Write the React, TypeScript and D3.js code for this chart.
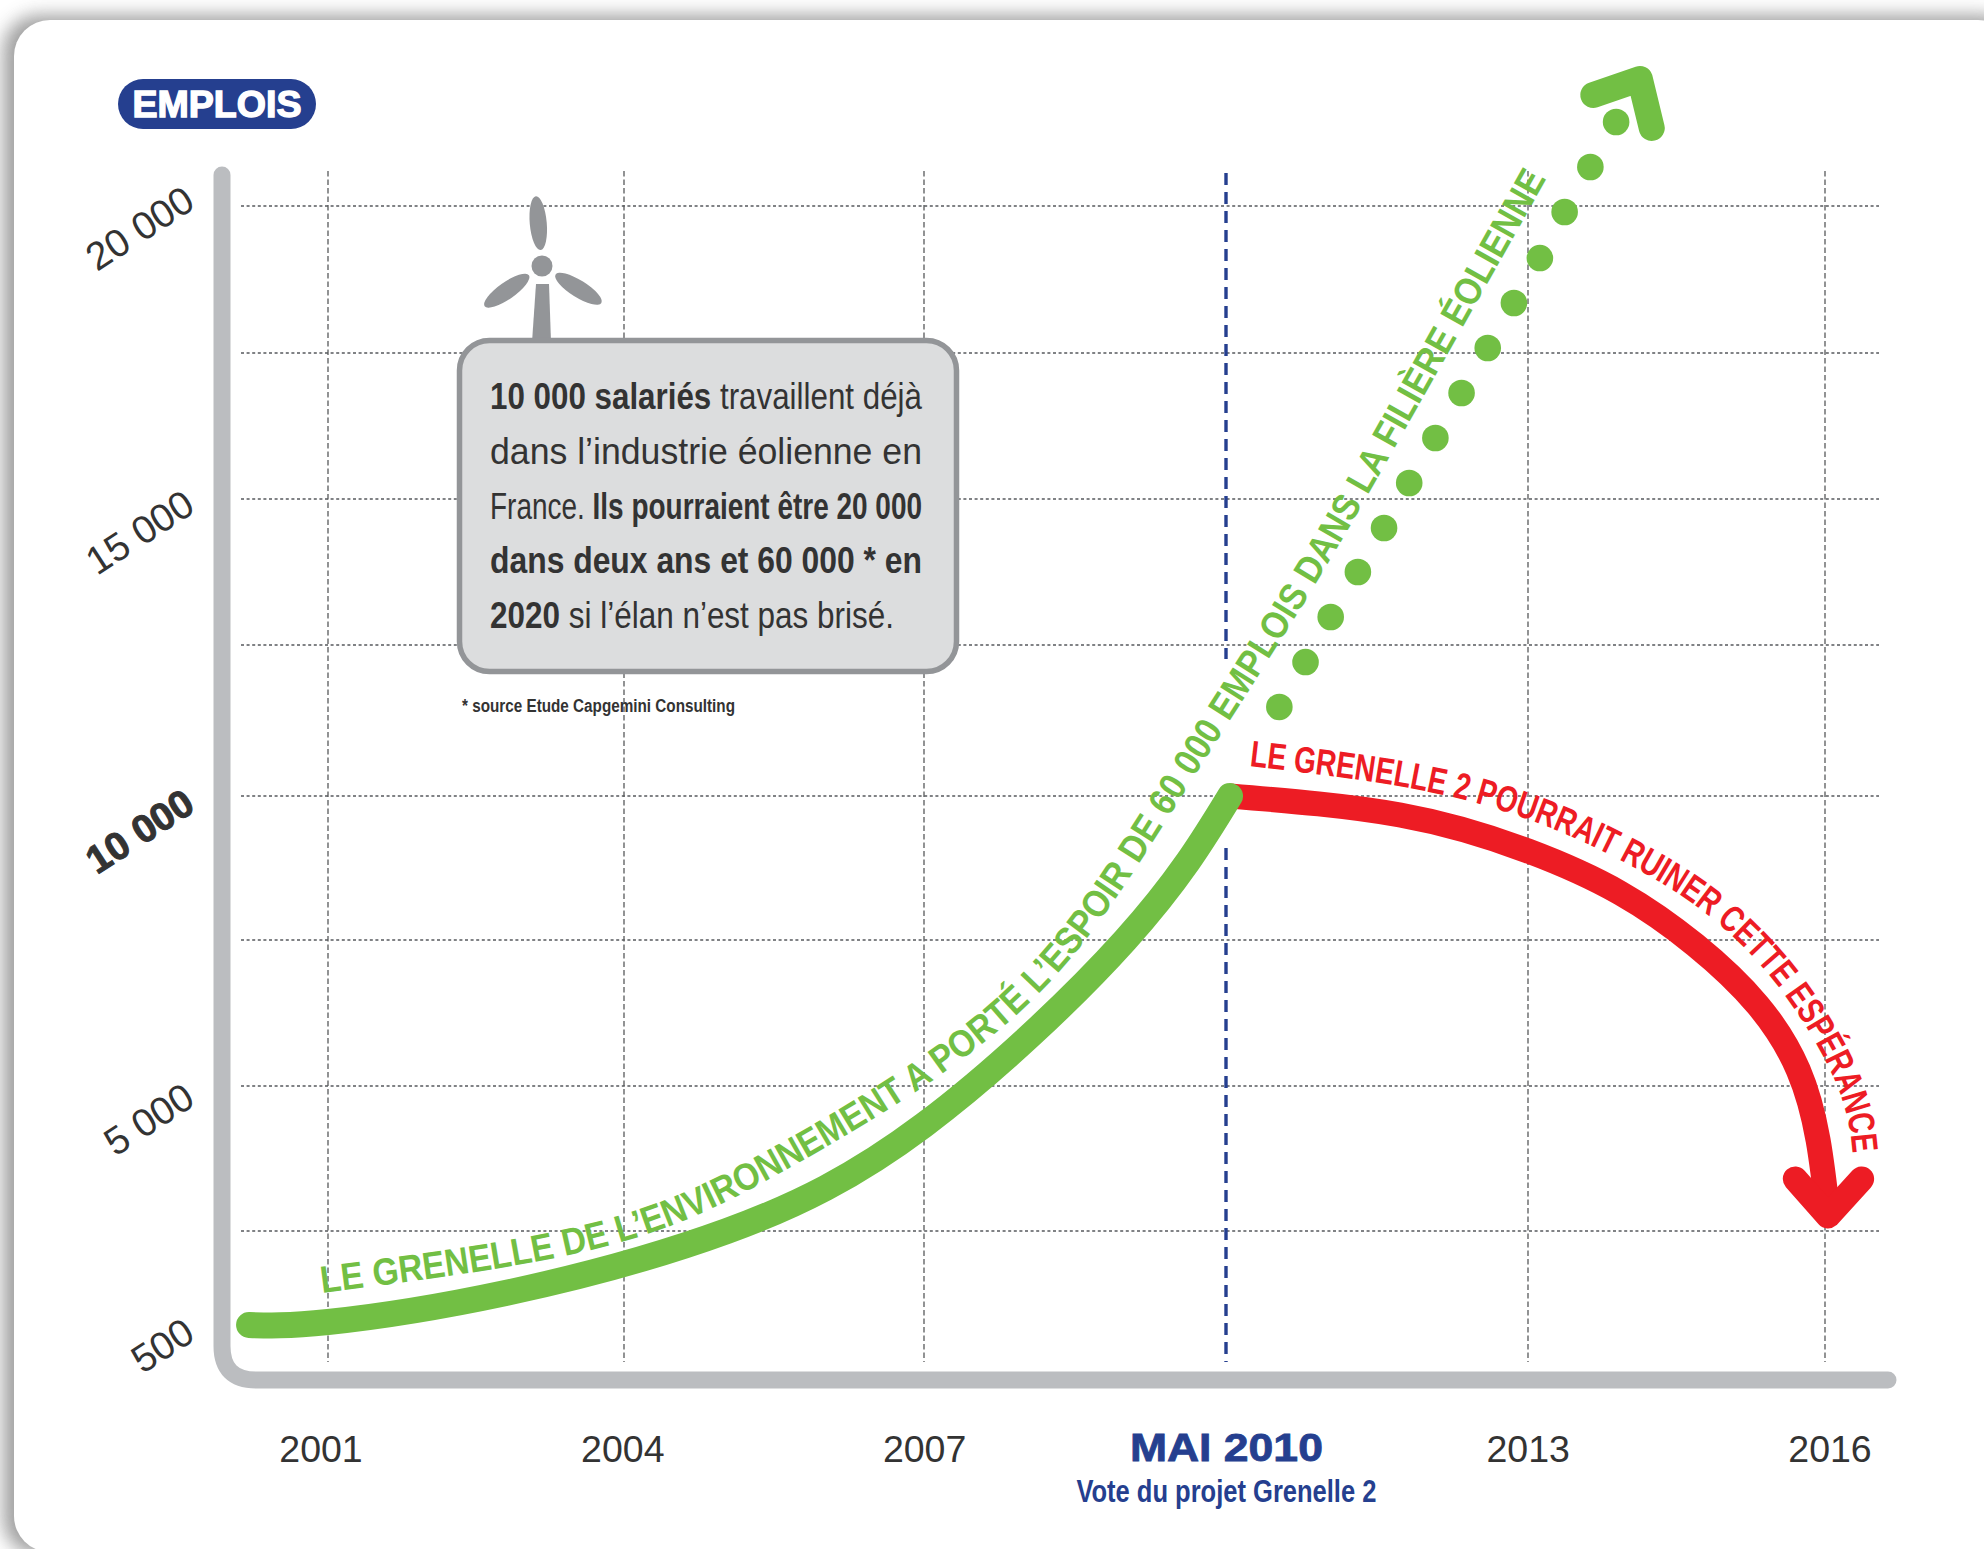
import React from "react";
import * as d3 from "d3";

const WIDTH = 1984;
const HEIGHT = 1549;

const GREEN = "#72bf44";
const RED = "#ed1c24";
const BLUE = "#253f8f";
const AXIS_GREY = "#bbbdc0";
const TURBINE_GREY = "#939598";
const INK = "#333333";
const SANS = "'Liberation Sans', Arial, sans-serif";

// ticks
const yearTicks = [2001, 2004, 2007, 2010, 2013, 2016];
const yearLabels = ["2001", "2004", "2007", "MAI 2010", "2013", "2016"];
const jobGrid = [2500, 5000, 7500, 10000, 12500, 15000, 17500, 20000];
const jobTicks = [500, 5000, 10000, 15000, 20000];
const jobTickLabels = ["500", "5 000", "10 000", "15 000", "20 000"];

// [year, jobs]
const grenelle1 = [
  [2000.2, 500], [2001, 564], [2002.8, 1181], [2005.03, 2500], [2007, 4328], [2009, 7500], [2010.04, 10000]
];
const grenelle2 = [
  [2010.04, 10000], [2011.73, 9670], [2013, 9045], [2013.93, 8316], [2014.69, 7414], [2015.32, 6387],
  [2015.73, 5274], [2015.93, 4069], [2016.03, 2776]
];
const hopeDots = [
  [2010.53, 11474], [2010.79, 12218], [2011.04, 12979], [2011.31, 13750], [2011.57, 14503],
  [2011.82, 15274], [2012.08, 16045], [2012.34, 16815], [2012.6, 17585], [2012.86, 18350],
  [2013.12, 19115], [2013.37, 19898], [2013.63, 20663], [2013.89, 21429]
];
const hopeArrow = [[2013.66, 21888], [2014.13, 22160], [2014.25, 21327]];
const dropArrow = [[2015.7, 3397], [2016.03, 2759], [2016.37, 3397]];

// baselines of the two curved captions
const greenCaptionGuide = [
  [2000.94, 1181], [2003.79, 2160], [2005.76, 3690], [2007.94, 6250], [2009.41, 9583],
  [2010.67, 12928], [2011.68, 15890], [2013.2, 20500], [2013.35, 20900]
];
const redCaptionGuide = [
  [2010.23, 10497], [2012.37, 9931], [2013.95, 8872], [2014.94, 7760], [2015.65, 6421],
  [2016.15, 4879], [2016.28, 3810], [2016.3, 3466]
];
const greenCaption = "LE GRENELLE DE L’ENVIRONNEMENT A PORTÉ L’ESPOIR DE 60 000 EMPLOIS DANS LA FILIÈRE ÉOLIENNE";
const redCaption = "LE GRENELLE 2 POURRAIT RUINER CETTE ESPÉRANCE";

const calloutLines = [
  [["10 000 salariés", true], [" travaillent déjà", false]],
  [["dans l’industrie éolienne en", false]],
  [["France. ", false], ["Ils pourraient être 20 000", true]],
  [["dans deux ans et 60 000 * en", true]],
  [["2020", true], [" si l’élan n’est pas brisé.", false]]
];
const footnote = "* source Etude Capgemini Consulting";

// the printed axes are not quite regular, so the scales are piecewise
const x = d3.scaleLinear().domain(yearTicks).range([328, 624, 924, 1226, 1528, 1825]);
const y = d3
  .scaleLinear()
  .domain([500, 2500, 5000, 7500, 10000, 12500, 15000, 17500, 20000])
  .range([1325, 1231, 1086, 940, 796, 645, 499, 353, 206]);
const yearLabelX = d3.scaleLinear().domain([2001, 2016]).range([321, 1830]);
const jobLabelY = d3.scaleLinear().domain(jobTicks).range([1339, 1104, 810, 511, 207]);

const smooth = d3
  .line()
  .x(d => x(d[0]))
  .y(d => y(d[1]))
  .curve(d3.curveNatural);
const straight = d3
  .line()
  .x(d => x(d[0]))
  .y(d => y(d[1]));

// length of the guide up to its last but one point: where the caption stops
const guideLength = pts =>
  d3.sum(pts.slice(1, -1), (p, i) => Math.hypot(x(p[0]) - x(pts[i][0]), y(p[1]) - y(pts[i][1])));

const plotTop = 171;
const plotBottom = 1362;
const gridLeft = 241;
const gridRight = 1879;
const axisPath = "M222,175 V1346 Q222,1380 256,1380 H1888";

// blade angles of the little turbine
const blades = [-5, 122, -125];

export default function App() {
  return (
    <svg
      width={WIDTH}
      height={HEIGHT}
      viewBox={`0 0 ${WIDTH} ${HEIGHT}`}
      style={{ position: "absolute", left: 0, top: 0, background: "#ffffff" }}
    >
      <defs>
        <filter id="cardShadow" x="-5%" y="-5%" width="110%" height="110%">
          <feGaussianBlur stdDeviation="9" />
        </filter>
        <path id="greenGuide" d={smooth(greenCaptionGuide)} fill="none" />
        <path id="redGuide" d={smooth(redCaptionGuide)} fill="none" />
      </defs>

      <rect x={3} y={15} width={2015} height={1540} rx={36} fill="#808080" opacity={0.75} filter="url(#cardShadow)" />
      <rect x={14} y={20} width={2000} height={1532} rx={36} fill="#ffffff" />

      <rect x={118} y={79} width={198} height={50} rx={25} fill={BLUE} />
      <text
        x={217}
        y={117}
        textAnchor="middle"
        fontFamily={SANS}
        fontWeight="bold"
        fontSize={37}
        fill="#ffffff"
        stroke="#ffffff"
        strokeWidth={1.4}
        textLength={169}
        lengthAdjust="spacingAndGlyphs"
      >
        EMPLOIS
      </text>

      {jobGrid.map(v => (
        <line
          key={v}
          x1={gridLeft}
          x2={gridRight}
          y1={y(v)}
          y2={y(v)}
          stroke="#808285"
          strokeWidth={1.8}
          strokeDasharray="3 2.6"
        />
      ))}
      {yearTicks
        .filter(t => t !== 2010)
        .map(t => (
          <line
            key={t}
            x1={x(t)}
            x2={x(t)}
            y1={plotTop}
            y2={plotBottom}
            stroke="#58595b"
            strokeWidth={1.3}
            strokeDasharray="5.5 3"
          />
        ))}

      {/* vote line, cut out where the curve passes */}
      <line x1={x(2010)} x2={x(2010)} y1={y(20561)} y2={y(12268)} stroke={BLUE} strokeWidth={3.4} strokeDasharray="12 7" />
      <line x1={x(2010)} x2={x(2010)} y1={y(9097)} y2={plotBottom} stroke={BLUE} strokeWidth={3.4} strokeDasharray="12 7" />

      <path d={axisPath} fill="none" stroke={AXIS_GREY} strokeWidth={17} strokeLinecap="round" />

      {jobTicks.map((v, i) => (
        <text
          key={v}
          transform={`translate(197,${jobLabelY(v)}) rotate(-33)`}
          textAnchor="end"
          fontFamily={SANS}
          fontSize={39}
          fontWeight={v === 10000 ? "bold" : "normal"}
          fill={INK}
          stroke={v === 10000 ? INK : "none"}
          strokeWidth={1}
        >
          {jobTickLabels[i]}
        </text>
      ))}

      {yearTicks.map((t, i) =>
        t === 2010 ? (
          <g key={t} fill={BLUE} textAnchor="middle">
            <text
              x={yearLabelX(t)}
              y={1461}
              fontFamily={SANS}
              fontWeight="bold"
              fontSize={38}
              stroke={BLUE}
              strokeWidth={0.8}
              textLength={193}
              lengthAdjust="spacingAndGlyphs"
            >
              {yearLabels[i]}
            </text>
            <text
              x={yearLabelX(t)}
              y={1502}
              fontFamily={SANS}
              fontWeight="bold"
              fontSize={31}
              textLength={300}
              lengthAdjust="spacingAndGlyphs"
            >
              Vote du projet Grenelle 2
            </text>
          </g>
        ) : (
          <text key={t} x={yearLabelX(t)} y={1462} textAnchor="middle" fontFamily={SANS} fontSize={37.5} fill={INK}>
            {yearLabels[i]}
          </text>
        )
      )}

      {/* turbine */}
      <g fill={TURBINE_GREY}>
        <path d="M536,284 H549 L551,342 H532 Z" />
        <circle cx={542} cy={266} r={10.5} />
        {blades.map(a => (
          <ellipse key={a} cx={542} cy={223} rx={8.5} ry={27} transform={`rotate(${a} 542 266)`} />
        ))}
      </g>

      <rect x={459.5} y={340.5} width={497} height={331} rx={30} fill="#dcddde" stroke={TURBINE_GREY} strokeWidth={5.5} />
      {calloutLines.map((parts, i) => (
        <text
          key={i}
          x={490}
          y={409 + i * 54.8}
          fontFamily={SANS}
          fontSize={36}
          fill={INK}
          textLength={i < 4 ? 432 : 404}
          lengthAdjust="spacingAndGlyphs"
        >
          {parts.map((p, j) => (
            <tspan key={j} fontWeight={p[1] ? "bold" : "normal"}>
              {p[0]}
            </tspan>
          ))}
        </text>
      ))}
      <text
        x={462}
        y={712}
        fontFamily={SANS}
        fontWeight="bold"
        fontSize={18}
        fill={INK}
        textLength={273}
        lengthAdjust="spacingAndGlyphs"
      >
        {footnote}
      </text>

      <path d={smooth(grenelle2)} fill="none" stroke={RED} strokeWidth={25} />
      <path d={straight(dropArrow)} fill="none" stroke={RED} strokeWidth={25} strokeLinecap="round" strokeLinejoin="round" />
      <path d={smooth(grenelle1)} fill="none" stroke={GREEN} strokeWidth={26} strokeLinecap="round" />

      {hopeDots.map(d => (
        <circle key={d[0]} cx={x(d[0])} cy={y(d[1])} r={13.3} fill={GREEN} />
      ))}
      <path d={straight(hopeArrow)} fill="none" stroke={GREEN} strokeWidth={26} strokeLinecap="round" strokeLinejoin="round" />

      <text fontFamily={SANS} fontWeight="bold" fontSize={38} fill={GREEN}>
        <textPath href="#greenGuide" textLength={guideLength(greenCaptionGuide)} lengthAdjust="spacingAndGlyphs">
          {greenCaption}
        </textPath>
      </text>
      <text fontFamily={SANS} fontWeight="bold" fontSize={37} fill={RED}>
        <textPath href="#redGuide" textLength={guideLength(redCaptionGuide)} lengthAdjust="spacingAndGlyphs">
          {redCaption}
        </textPath>
      </text>
    </svg>
  );
}
